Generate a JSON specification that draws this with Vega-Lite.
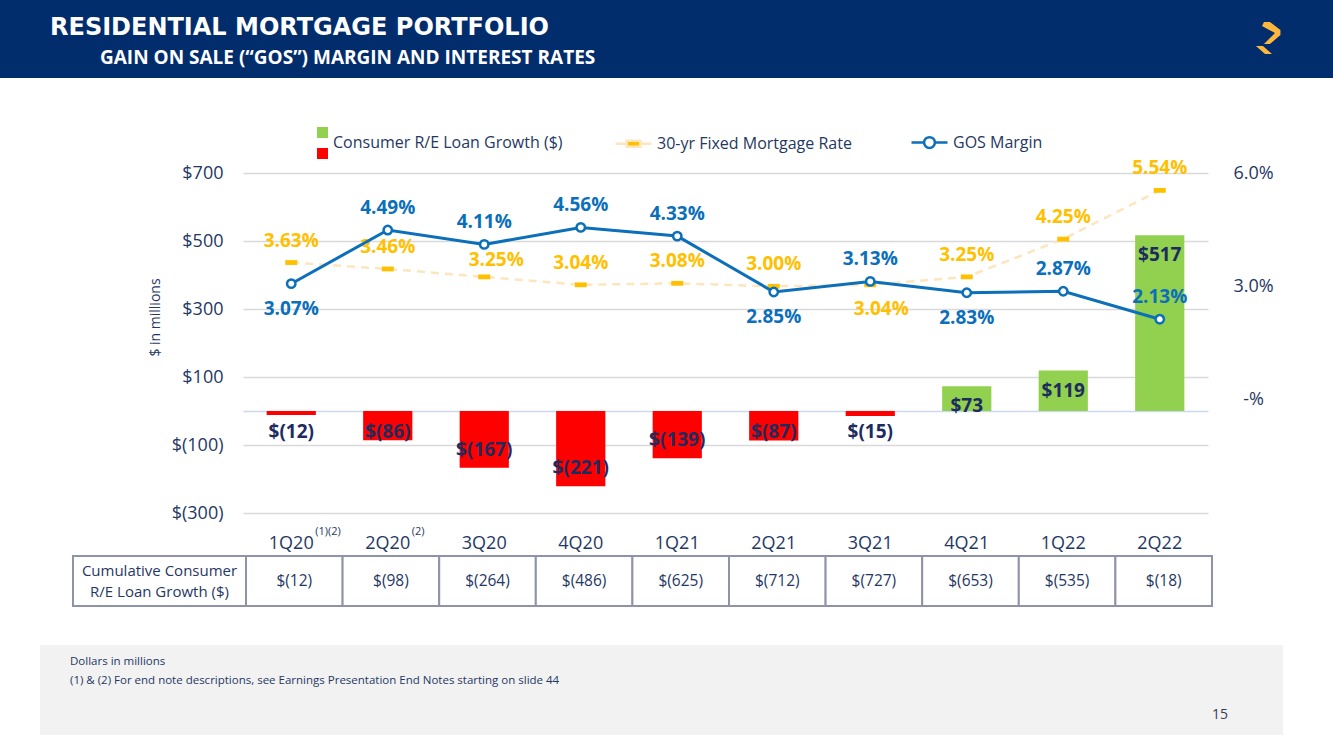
{
  "$schema": "https://vega.github.io/schema/vega-lite/v6.json",
  "padding": 0,
  "background": "#ffffff",
  "config": {"view": {"stroke": null}, "font": "Open Sans"},
  "datasets": {
    "q": [
      {"quarter": "1Q20", "growth": -12, "direction": "Decline", "growthLabel": "$(12)", "rate": 3.63, "rateLabel": "3.63%", "gos": 3.07, "gosLabel": "3.07%", "cumulative": "$(12)", "note": "(1)(2)"},
      {"quarter": "2Q20", "growth": -86, "direction": "Decline", "growthLabel": "$(86)", "rate": 3.46, "rateLabel": "3.46%", "gos": 4.49, "gosLabel": "4.49%", "cumulative": "$(98)", "note": "(2)"},
      {"quarter": "3Q20", "growth": -167, "direction": "Decline", "growthLabel": "$(167)", "rate": 3.25, "rateLabel": "3.25%", "gos": 4.11, "gosLabel": "4.11%", "cumulative": "$(264)", "note": ""},
      {"quarter": "4Q20", "growth": -221, "direction": "Decline", "growthLabel": "$(221)", "rate": 3.04, "rateLabel": "3.04%", "gos": 4.56, "gosLabel": "4.56%", "cumulative": "$(486)", "note": ""},
      {"quarter": "1Q21", "growth": -139, "direction": "Decline", "growthLabel": "$(139)", "rate": 3.08, "rateLabel": "3.08%", "gos": 4.33, "gosLabel": "4.33%", "cumulative": "$(625)", "note": ""},
      {"quarter": "2Q21", "growth": -87, "direction": "Decline", "growthLabel": "$(87)", "rate": 3.00, "rateLabel": "3.00%", "gos": 2.85, "gosLabel": "2.85%", "cumulative": "$(712)", "note": ""},
      {"quarter": "3Q21", "growth": -15, "direction": "Decline", "growthLabel": "$(15)", "rate": 3.04, "rateLabel": "3.04%", "gos": 3.13, "gosLabel": "3.13%", "cumulative": "$(727)", "note": ""},
      {"quarter": "4Q21", "growth": 73, "direction": "Growth", "growthLabel": "$73", "rate": 3.25, "rateLabel": "3.25%", "gos": 2.83, "gosLabel": "2.83%", "cumulative": "$(653)", "note": ""},
      {"quarter": "1Q22", "growth": 119, "direction": "Growth", "growthLabel": "$119", "rate": 4.25, "rateLabel": "4.25%", "gos": 2.87, "gosLabel": "2.87%", "cumulative": "$(535)", "note": ""},
      {"quarter": "2Q22", "growth": 517, "direction": "Growth", "growthLabel": "$517", "rate": 5.54, "rateLabel": "5.54%", "gos": 2.13, "gosLabel": "2.13%", "cumulative": "$(18)", "note": ""}
    ]
  },
  "spacing": 81,
  "vconcat": [
    {
      "bounds": "flush",
      "spacing": 0,
      "hconcat": [
        {
          "width": 1203, "height": 78,
          "view": {"fill": "#022d6d", "stroke": null},
          "data": {"values": [{}]},
          "mark": {"type": "text", "text": ""},
          "title": {"text": "RESIDENTIAL MORTGAGE PORTFOLIO", "orient": "top", "anchor": "start", "frame": "group", "offset": -40, "dx": 50, "limit": 1100, "font": "DejaVu Sans", "fontSize": 24, "fontWeight": "bold", "color": "#ffffff"}
        },
        {
          "width": 130, "height": 78,
          "view": {"fill": "#022d6d", "stroke": null},
          "data": {"values": [{}]},
          "mark": {"type": "point", "shape": "M-0.23,-0.97L0.11,-0.97L0.71,-0.51L0.71,-0.23L0.11,0.29L-0.23,0.29L0.4,-0.34L-0.34,-0.74ZM-0.69,0.4L-0.29,0.4L0.23,0.86L-0.17,0.86Z", "filled": true, "color": "#fdb73e", "size": 1225, "opacity": 1, "strokeWidth": 0},
          "title": {"text": "GAIN ON SALE (“GOS”) MARGIN AND INTEREST RATES", "orient": "top", "anchor": "start", "frame": "group", "offset": -68, "dx": -1103, "limit": 1100, "font": "Open Sans", "fontSize": 19, "fontWeight": "bold", "color": "#ffffff"}
        }
      ]
    },
    {
      "spacing": 3,
      "vconcat": [
        {
          "bounds": "flush",
          "spacing": 0,
          "hconcat": [
            {"width": 243, "height": 340, "data": {"values": [{}]}, "mark": {"type": "text", "text": ""}},
            {
              "width": 965, "height": 340,
              "data": {"name": "q"},
              "encoding": {
                "x": {"field": "quarter", "type": "nominal", "sort": null,
                  "scale": {"paddingInner": 0.49, "paddingOuter": 0.245},
                  "axis": {"title": null, "labelAngle": 0, "labelFontSize": 18, "labelColor": "#1f3864", "labelPadding": 21, "ticks": false, "domain": false, "grid": false}}
              },
              "layer": [
                {
                  "mark": {"type": "bar"},
                  "encoding": {
                    "y": {"field": "growth", "type": "quantitative", "scale": {"domain": [-300, 700], "nice": false},
                      "axis": {"orient": "left", "values": [-300, -100, 0, 100, 300, 500, 700],
                        "labelExpr": "datum.value == 0 ? '' : (datum.value < 0 ? '$(' + (-datum.value) + ')' : '$' + datum.value)",
                        "grid": true, "gridColor": {"condition": {"test": "datum.value === 0", "value": "#cbd9ee"}, "value": "#d9d9d9"}, "gridWidth": 1.5,
                        "domain": false, "ticks": false, "labelFontSize": 18, "labelColor": "#1f3864", "labelPadding": 20,
                        "title": "$ in millions", "titleFontSize": 14, "titleFontWeight": "normal", "titleColor": "#1f3864", "titlePadding": 9, "titleY": 144}},
                    "fill": {"field": "direction", "type": "nominal",
                      "scale": {"domain": ["Growth", "Decline"], "range": ["#92d050", "#ff0000"]},
                      "legend": {"orient": "none", "legendX": 317, "legendY": 127, "direction": "vertical",
                        "title": "Consumer R/E Loan Growth ($)", "titleOrient": "right", "titleAnchor": "middle", "titleBaseline": "middle",
                        "titleFontSize": 16, "titleFontWeight": "normal", "titleColor": "#1f3864", "titlePadding": 5, "titleLimit": 500,
                        "symbolType": "square", "symbolSize": 121, "symbolStrokeWidth": 0, "labelFontSize": 11,
                        "labelOffset": 0, "rowPadding": 9, "labelExpr": "''"}}
                  }
                },
                {
                  "transform": [{"filter": "datum.growth <= -100"}],
                  "mark": {"type": "text", "fontSize": 19, "fontWeight": "bold", "color": "#1d2c5e", "dy": -18},
                  "encoding": {"y": {"field": "growth", "type": "quantitative", "scale": {"domain": [-300, 700], "nice": false}, "axis": null}, "text": {"field": "growthLabel"}}
                },
                {
                  "transform": [{"filter": "datum.growth < 0 && datum.growth > -100"}],
                  "mark": {"type": "text", "fontSize": 19, "fontWeight": "bold", "color": "#1d2c5e", "dy": 21},
                  "encoding": {"y": {"datum": 0, "type": "quantitative", "scale": {"domain": [-300, 700], "nice": false}, "axis": null}, "text": {"field": "growthLabel"}}
                },
                {
                  "transform": [{"filter": "datum.growth > 0"}],
                  "mark": {"type": "text", "fontSize": 19, "fontWeight": "bold", "color": "#1d2c5e", "dy": 20},
                  "encoding": {"y": {"field": "growth", "type": "quantitative", "scale": {"domain": [-300, 700], "nice": false}, "axis": null}, "text": {"field": "growthLabel"}}
                },
                {
                  "transform": [{"filter": "datum.note != ''"}],
                  "mark": {"type": "text", "fontSize": 11, "color": "#1f3864", "align": "left", "dx": 24, "dy": 19},
                  "encoding": {"y": {"datum": -300, "type": "quantitative", "scale": {"domain": [-300, 700], "nice": false}, "axis": null}, "text": {"field": "note"}}
                },
                {
                  "mark": {"type": "line", "strokeWidth": 2.5, "strokeDash": [8, 6]},
                  "encoding": {
                    "y": {"field": "rate", "type": "quantitative", "scale": {"domain": [-3, 6], "nice": false, "zero": false},
                      "axis": {"orient": "right", "values": [0, 3, 6],
                        "labelExpr": "datum.value == 0 ? '-%' : format(datum.value, '.1f') + '%'",
                        "grid": false, "domain": false, "ticks": false, "labelFontSize": 18, "labelColor": "#1f3864",
                        "labelPadding": 45, "labelAlign": "center", "title": null}},
                    "stroke": {"datum": "30-yr Fixed Mortgage Rate", "type": "nominal",
                      "scale": {"domain": ["30-yr Fixed Mortgage Rate", "GOS Margin"], "range": ["#fde6be", "#0b6fba"]},
                      "legend": {"orient": "none", "legendX": 614, "legendY": 123, "direction": "horizontal", "title": null,
                        "symbolSize": 1296, "symbolStrokeWidth": 2.5, "labelFontSize": 16, "labelColor": "#1f3864",
                        "labelOffset": 4, "columnPadding": 54, "labelLimit": 500,
                        "encode": {"symbols": {"update": {
                          "shape": {"signal": "datum.value == 'GOS Margin' ? 'M-1,0L-0.3,0M0.3,0L1,0M-0.3,0A0.3,0.3,0,1,1,0.3,0A0.3,0.3,0,1,1,-0.3,0Z' : 'M-1,0L-0.42,0M0.42,0L1,0M-0.38,-0.16L0.38,-0.16L0.38,0.16L-0.38,0.16Z'"},
                          "stroke": {"signal": "datum.value == 'GOS Margin' ? '#0b6fba' : '#fde6be'"},
                          "fill": {"signal": "datum.value == 'GOS Margin' ? '#ffffff' : '#ffc000'"},
                          "opacity": {"value": 1}}}}}}
                  }
                },
                {
                  "mark": {"type": "point", "shape": "M-1,-0.4L1,-0.4L1,0.4L-1,0.4Z", "filled": true, "color": "#ffc000", "size": 144, "opacity": 1, "strokeWidth": 0},
                  "encoding": {"y": {"field": "rate", "type": "quantitative", "scale": {"domain": [-3, 6], "nice": false, "zero": false}, "axis": null}}
                },
                {
                  "transform": [{"filter": "datum.quarter != '3Q20' && datum.quarter != '3Q21'"}],
                  "mark": {"type": "text", "fontSize": 19, "fontWeight": "bold", "color": "#ffc000", "dy": -22},
                  "encoding": {"y": {"field": "rate", "type": "quantitative", "scale": {"domain": [-3, 6], "nice": false, "zero": false}, "axis": null}, "text": {"field": "rateLabel"}}
                },
                {
                  "transform": [{"filter": "datum.quarter == '3Q20'"}],
                  "mark": {"type": "text", "fontSize": 19, "fontWeight": "bold", "color": "#ffc000", "dy": -17, "dx": 12},
                  "encoding": {"y": {"field": "rate", "type": "quantitative", "scale": {"domain": [-3, 6], "nice": false, "zero": false}, "axis": null}, "text": {"field": "rateLabel"}}
                },
                {
                  "transform": [{"filter": "datum.quarter == '3Q21'"}],
                  "mark": {"type": "text", "fontSize": 19, "fontWeight": "bold", "color": "#ffc000", "dy": 24, "dx": 11},
                  "encoding": {"y": {"field": "rate", "type": "quantitative", "scale": {"domain": [-3, 6], "nice": false, "zero": false}, "axis": null}, "text": {"field": "rateLabel"}}
                },
                {
                  "mark": {"type": "line", "strokeWidth": 3},
                  "encoding": {
                    "y": {"field": "gos", "type": "quantitative", "scale": {"domain": [-3, 6], "nice": false, "zero": false}, "axis": null},
                    "stroke": {"datum": "GOS Margin", "type": "nominal"}
                  }
                },
                {
                  "mark": {"type": "point", "shape": "circle", "filled": true, "fill": "#ffffff", "stroke": "#0b6fba", "strokeWidth": 2.5, "size": 70, "opacity": 1},
                  "encoding": {"y": {"field": "gos", "type": "quantitative", "scale": {"domain": [-3, 6], "nice": false, "zero": false}, "axis": null}}
                },
                {
                  "transform": [{"filter": "indexof(['1Q20', '2Q21', '4Q21'], datum.quarter) < 0"}],
                  "mark": {"type": "text", "fontSize": 19, "fontWeight": "bold", "color": "#0b6fba", "dy": -22},
                  "encoding": {"y": {"field": "gos", "type": "quantitative", "scale": {"domain": [-3, 6], "nice": false, "zero": false}, "axis": null}, "text": {"field": "gosLabel"}}
                },
                {
                  "transform": [{"filter": "indexof(['1Q20', '2Q21', '4Q21'], datum.quarter) >= 0"}],
                  "mark": {"type": "text", "fontSize": 19, "fontWeight": "bold", "color": "#0b6fba", "dy": 25},
                  "encoding": {"y": {"field": "gos", "type": "quantitative", "scale": {"domain": [-3, 6], "nice": false, "zero": false}, "axis": null}, "text": {"field": "gosLabel"}}
                }
              ],
              "resolve": {"scale": {"y": "independent"}}
            }
          ]
        },
        {
          "spacing": 38,
          "vconcat": [
            {
              "bounds": "flush",
              "spacing": 0,
              "hconcat": [
                {"width": 73, "height": 50, "data": {"values": [{}]}, "mark": {"type": "text", "text": ""}},
                {
                  "width": 173, "height": 50,
                  "view": {"stroke": "#8f93a8", "strokeWidth": 2},
                  "data": {"values": [{}]},
                  "mark": {"type": "text", "text": ["Cumulative Consumer", "R/E Loan Growth ($)"], "fontSize": 15, "lineHeight": 21, "dy": -10.5, "color": "#1f3864"}
                },
                {
                  "width": 966, "height": 50,
                  "data": {"name": "q"},
                  "encoding": {"x": {"field": "quarter", "type": "nominal", "sort": null, "axis": null, "scale": {"paddingInner": 0, "paddingOuter": 0}}},
                  "layer": [
                    {"mark": {"type": "rect", "fill": "#ffffff", "stroke": "#8f93a8", "strokeWidth": 2}},
                    {"mark": {"type": "text", "fontSize": 15.5, "color": "#1f3864"}, "encoding": {"text": {"field": "cumulative"}}}
                  ]
                }
              ]
            },
            {
              "bounds": "flush",
              "spacing": 0,
              "hconcat": [
                {"width": 40, "height": 90, "data": {"values": [{}]}, "mark": {"type": "text", "text": ""}},
                {
                  "width": 1140, "height": 90,
                  "view": {"fill": "#f2f2f2", "stroke": null},
                  "data": {"values": [{}]},
                  "mark": {"type": "text", "text": ""},
                  "title": {"text": "Dollars in millions", "subtitle": "(1) & (2) For end note descriptions, see Earnings Presentation End Notes starting on slide 44",
                    "orient": "top", "anchor": "start", "frame": "group", "offset": -41, "dx": 30, "limit": 1100,
                    "fontSize": 11.5, "fontWeight": "normal", "color": "#1f3864",
                    "subtitleFontSize": 11.5, "subtitleColor": "#1f3864", "subtitlePadding": 7}
                },
                {
                  "width": 103, "height": 90,
                  "view": {"fill": "#f2f2f2", "stroke": null},
                  "data": {"values": [{}]},
                  "mark": {"type": "text", "text": ""},
                  "title": {"text": "15", "orient": "bottom", "anchor": "start", "frame": "group", "offset": -27, "dx": 32, "fontSize": 14, "fontWeight": "normal", "color": "#3a3d5c"}
                }
              ]
            }
          ]
        }
      ]
    }
  ]
}
